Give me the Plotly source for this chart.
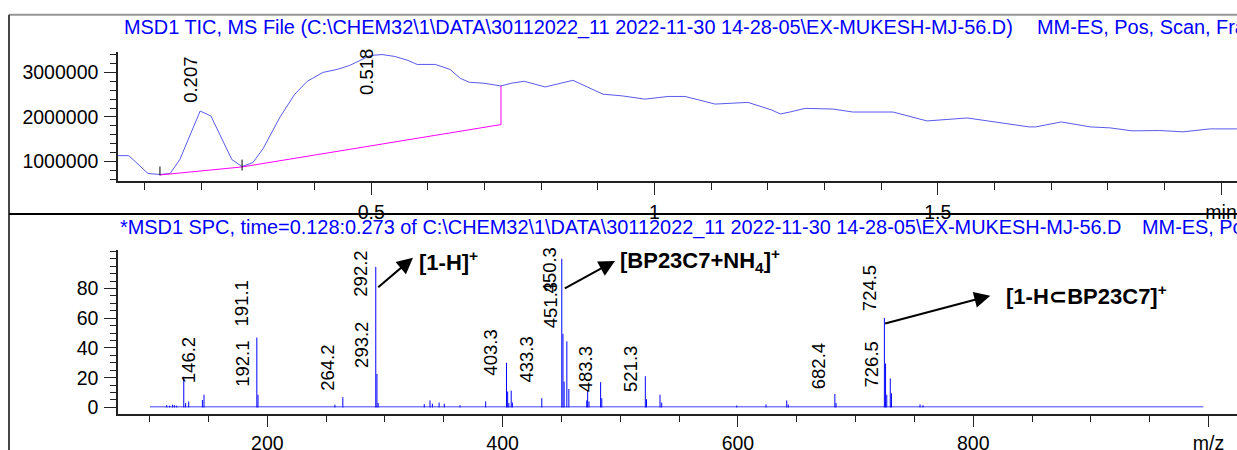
import plotly.graph_objects as go

# ---------------- data ----------------
# TIC chromatogram (time in min, counts)
tic_time = [0.053, 0.072, 0.106, 0.127, 0.145, 0.162, 0.198, 0.217, 0.254, 0.272,
            0.291, 0.309, 0.339, 0.365, 0.387, 0.415, 0.440, 0.462, 0.498, 0.519,
            0.542, 0.565, 0.581, 0.613, 0.639, 0.657, 0.673, 0.699, 0.729, 0.747,
            0.770, 0.807, 0.856, 0.909, 0.943, 0.983, 1.024, 1.054, 1.107, 1.165,
            1.207, 1.222, 1.239, 1.266, 1.315, 1.350, 1.421, 1.481, 1.552, 1.610,
            1.661, 1.673, 1.718, 1.769, 1.804, 1.843, 1.892, 1.933, 1.981, 2.028]
tic_counts = [1133000, 1133000, 733000, 711000, 733000, 1044000, 2133000, 2022000, 1044000, 889000,
              978000, 1289000, 2000000, 2511000, 2800000, 3000000, 3067000, 3156000, 3378000, 3400000,
              3356000, 3267000, 3178000, 3178000, 3067000, 2867000, 2778000, 2756000, 2696000, 2756000,
              2800000, 2673000, 2822000, 2511000, 2473000, 2400000, 2460000, 2460000, 2289000, 2327000,
              2156000, 2067000, 2111000, 2193000, 2178000, 2111000, 2111000, 1911000, 1978000, 1867000,
              1778000, 1778000, 1889000, 1778000, 1756000, 1689000, 1696000, 1667000, 1733000, 1733000]

# integration baseline
base_time = [0.127, 0.272, 0.729, 0.729]
base_counts = [700000, 880000, 1830000, 2696000]

# peak start/end markers
mark_time = [0.127, 0.272]
mark_lo = [690000, 800000]
mark_hi = [890000, 1044000]

# TIC peak labels
tic_peak_labels = ["0.207", "0.518"]
tic_label_counts = [2290000, 2470000]

# mass spectrum (m/z, relative abundance)
spec_mz = [114.5, 117.0, 119.5, 121.0, 123.0, 129.0, 130.6, 133.2, 144.8, 146.2,
           191.1, 192.1, 257.5, 264.2, 292.2, 293.2, 294.2, 333.4, 338.3, 340.3,
           346.0, 350.4, 363.8, 385.6, 403.3, 404.3, 405.3, 407.3, 408.3, 433.3,
           450.3, 451.3, 452.3, 454.6, 456.3, 471.5, 472.3, 473.4, 483.3, 484.3,
           521.3, 522.3, 533.8, 535.2, 599.0, 623.9, 641.5, 642.8, 682.4, 683.4,
           724.5, 725.5, 726.5, 729.5, 730.5, 754.8, 757.3]
spec_int = [1.5, 1.2, 1.8, 1.5, 1.2, 20.7, 2.9, 4.0, 5.0, 8.5,
            47.0, 8.5, 1.8, 6.9, 94.5, 22.5, 3.0, 2.2, 4.7, 2.5,
            3.3, 2.5, 1.5, 4.0, 30.0, 10.7, 2.9, 11.3, 3.3, 6.2,
            100.0, 49.5, 17.3, 44.4, 12.4, 4.7, 10.9, 4.0, 17.0, 6.2,
            21.0, 5.5, 8.5, 3.3, 1.3, 2.0, 4.7, 2.0, 9.1, 3.0,
            60.2, 29.5, 8.5, 19.5, 9.5, 2.0, 1.5]
noise_mz = [100.3, 995.6]
noise_level = 0.4

# labelled spectrum peaks and the height of the label foot
spec_labels = ["146.2", "191.1", "192.1", "264.2", "292.2", "293.2", "403.3", "433.3",
               "450.3", "451.3", "483.3", "521.3", "682.4", "724.5", "726.5"]
spec_label_foot = [15.3, 54.0, 12.9, 10.7, 74.0, 26.2, 20.7, 16.2,
                   76.2, 52.9, 9.6, 9.6, 11.8, 64.0, 12.9]

# ---------------- figure ----------------
W, H = 1237, 459
FONT = "Liberation Sans, Arial, sans-serif"
BLUE = "rgb(0,0,255)"


def py(p):
    """paper y from pixel row"""
    return 1 - p / H


def px(p):
    return p / W


fig = go.Figure()

fig.add_trace(go.Scatter(x=tic_time, y=tic_counts, mode="lines",
                         line=dict(color="rgb(90,90,235)", width=1),
                         xaxis="x", yaxis="y", showlegend=False, hoverinfo="skip"))
fig.add_trace(go.Scatter(x=base_time, y=base_counts, mode="lines",
                         line=dict(color="rgb(255,0,255)", width=1),
                         xaxis="x", yaxis="y", showlegend=False, hoverinfo="skip"))
mx, my = [], []
for t, lo, hi in zip(mark_time, mark_lo, mark_hi):
    mx += [t, t, None]
    my += [lo, hi, None]
fig.add_trace(go.Scatter(x=mx, y=my, mode="lines", line=dict(color="black", width=1),
                         xaxis="x", yaxis="y", showlegend=False, hoverinfo="skip"))

fig.add_trace(go.Scatter(x=noise_mz, y=[noise_level] * len(noise_mz), mode="lines",
                         line=dict(color="rgba(0,0,255,0.75)", width=1),
                         xaxis="x2", yaxis="y2", showlegend=False, hoverinfo="skip"))
sx, sy = [], []
for m, i in zip(spec_mz, spec_int):
    sx += [m, m, None]
    sy += [0, i, None]
fig.add_trace(go.Scatter(x=sx, y=sy, mode="lines", line=dict(color=BLUE, width=1),
                         xaxis="x2", yaxis="y2", showlegend=False, hoverinfo="skip"))

tickfont = dict(family=FONT, size=19.5, color="black")
axis_common = dict(showline=True, linecolor="#222", linewidth=1.5, ticks="outside",
                   tickcolor="#222", tickwidth=1, showgrid=False, zeroline=False,
                   tickfont=tickfont, fixedrange=True)

xdom = [px(118), 1.0]
fig.update_layout(
    width=W, height=H, margin=dict(l=0, r=0, t=0, b=0),
    paper_bgcolor="white", plot_bgcolor="white",
    xaxis=dict(domain=xdom, range=[0.05296, 2.0282], anchor="y",
               tickvals=[0.5, 1, 1.5, 2], ticktext=["0.5", "1", "1.5", "min"], ticklen=12,
               minor=dict(dtick=0.1, tick0=0, ticklen=7, ticks="outside", tickcolor="#222"),
               **axis_common),
    yaxis=dict(domain=[py(183), py(52)], range=[555600, 3467000], anchor="x",
               tickvals=[1000000, 2000000, 3000000], tickformat="d", ticklen=12,
               ticklabelstandoff=2,
               minor=dict(dtick=200000, tick0=0, ticklen=6, ticks="outside", tickcolor="#222"),
               **axis_common),
    xaxis2=dict(domain=xdom, range=[73.1, 1024.2], anchor="y2",
                tickvals=[200, 400, 600, 800, 1000], ticktext=["200", "400", "600", "800", "m/z"],
                ticklen=11,
                minor=dict(dtick=50, tick0=0, ticklen=6, ticks="outside", tickcolor="#222"),
                **axis_common),
    yaxis2=dict(domain=[py(417.7), py(251.7)], range=[-4.47, 106.2], anchor="x2",
                tickvals=[0, 20, 40, 60, 80], ticklen=12, ticklabelstandoff=2,
                minor=dict(dtick=5, tick0=0, ticklen=6, ticks="outside", tickcolor="#222"),
                **axis_common),
)

annotations = []
titlefont = dict(family=FONT, size=19.9, color=BLUE)
annotations.append(dict(xref="paper", yref="paper", x=px(122), y=py(27.5),
                        xanchor="left", yanchor="middle", showarrow=False, font=titlefont,
                        text="MSD1 TIC, MS File (C:\\CHEM32\\1\\DATA\\30112022_11 2022-11-30 14-28-05\\EX-MUKESH-MJ-56.D)"))
annotations.append(dict(xref="paper", yref="paper", x=px(1035), y=py(27.5),
                        xanchor="left", yanchor="middle", showarrow=False, font=titlefont,
                        text="MM-ES, Pos, Scan, Fra"))
annotations.append(dict(xref="paper", yref="paper", x=px(118), y=py(229),
                        xanchor="left", yanchor="middle", showarrow=False, font=titlefont,
                        text="*MSD1 SPC, time=0.128:0.273 of C:\\CHEM32\\1\\DATA\\30112022_11 2022-11-30 14-28-05\\EX-MUKESH-MJ-56.D"))
annotations.append(dict(xref="paper", yref="paper", x=px(1140), y=py(229),
                        xanchor="left", yanchor="middle", showarrow=False, font=titlefont,
                        text="MM-ES, Pos, Scan"))

labfont = dict(family=FONT, size=18.5, color="black")
for txt, foot in zip(tic_peak_labels, tic_label_counts):
    annotations.append(dict(xref="x", yref="y", x=float(txt), y=foot, text=txt,
                            textangle=-90, xanchor="right", yanchor="bottom",
                            xshift=-4, showarrow=False, font=labfont, borderpad=0))
for txt, foot in zip(spec_labels, spec_label_foot):
    shift = -1 if txt in ("450.3", "451.3") else -4
    annotations.append(dict(xref="x2", yref="y2", x=float(txt), y=foot, text=txt,
                            textangle=-90, xanchor="right", yanchor="bottom",
                            xshift=shift, showarrow=False, font=labfont, borderpad=0))

arrows = [((293.0, 80.0), (323.8, 100.7)),
          ((451.6, 79.5), (495.5, 98.5)),
          ((723.9, 56.2), (814.5, 75.1))]
for (tx, ty), (hx, hy) in arrows:
    annotations.append(dict(xref="x2", yref="y2", x=hx, y=hy, ax=tx, ay=ty,
                            axref="x2", ayref="y2", text="", showarrow=True,
                            arrowhead=2, arrowsize=1.6, arrowwidth=2, arrowcolor="black"))
boldfont = dict(family=FONT, size=22, color="black")
ions = [("<b>[1-H]<sup>+</sup></b>", 327, 98.7),
        ("<b>[BP23C7+NH<sub>4</sub>]<sup>+</sup></b>", 498, 98.7),
        ("<b>[1-H<span style='font-family:DejaVu Sans'>\u2282</span>BP23C7]<sup>+</sup></b>", 826, 75.7)]
for txt, x, y in ions:
    annotations.append(dict(xref="x2", yref="y2", x=x, y=y, text=txt, xanchor="left",
                            yanchor="middle", showarrow=False, font=boldfont))

fig.update_layout(annotations=annotations)

fig.update_layout(shapes=[
    dict(type="line", xref="paper", yref="paper", x0=px(9), x1=1, y0=py(15), y1=py(15),
         line=dict(color="rgb(150,150,150)", width=2)),
    dict(type="line", xref="paper", yref="paper", x0=px(9), x1=px(9), y0=0, y1=py(15),
         line=dict(color="rgb(70,70,70)", width=2)),
    dict(type="line", xref="paper", yref="paper", x0=px(9), x1=1, y0=py(216), y1=py(216),
         line=dict(color="black", width=2)),
])

fig.write_html("out.html")
